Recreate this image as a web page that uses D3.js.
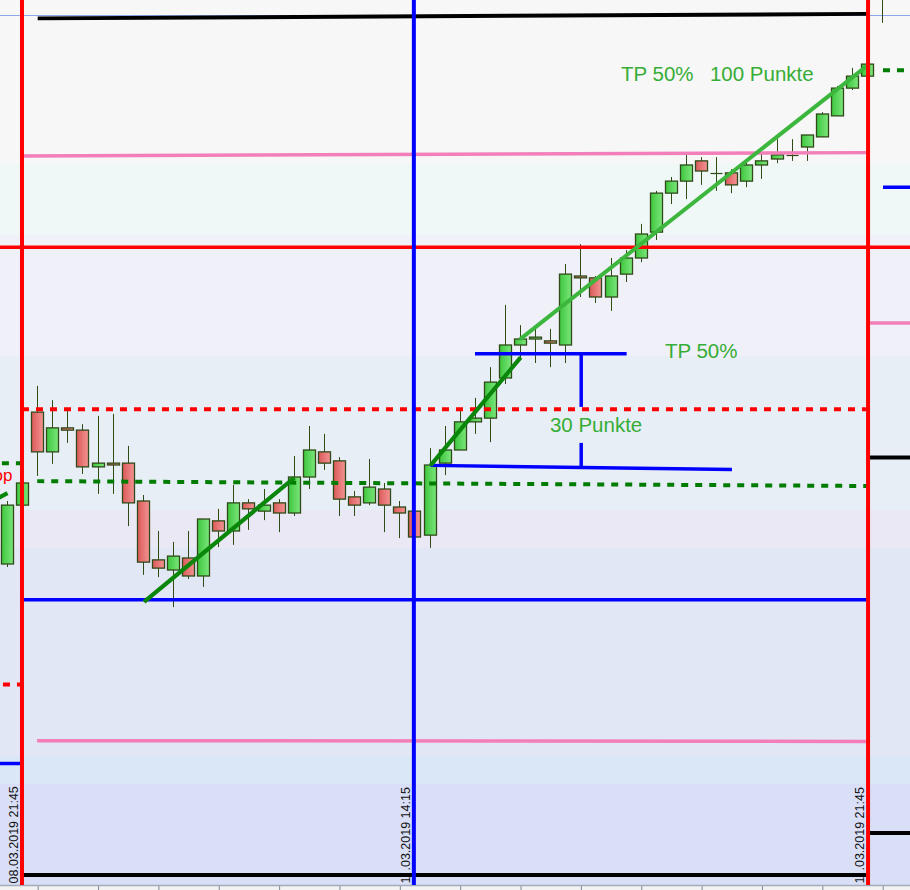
<!DOCTYPE html>
<html>
<head>
<meta charset="utf-8">
<script src="https://cdn.jsdelivr.net/npm/d3@7/dist/d3.min.js"></script>
<style>
  html, body { margin: 0; padding: 0; background: #f7f7f7; }
  svg { display: block; }
</style>
</head>
<body>
<svg id="chart" width="910" height="890"></svg>
<script>
// 15 minute candles, 08.03.2019 21:30 -> 11.03.2019 22:00
const opens = [11473.6, 11489.3, 11514.1, 11503.5, 11509.9, 11509.3, 11499.5, 11500.5, 11500.5, 11490.4,
    11474.7, 11472.0, 11475.2, 11470.4, 11485.1, 11482.4, 11489.9, 11487.7, 11489.9, 11487.2,
    11496.8, 11503.5, 11501.1, 11491.5, 11489.9, 11493.6, 11488.8, 11487.7, 11481.3, 11500.5,
    11504.0, 11511.5, 11512.5, 11523.2, 11532.0, 11533.6, 11533.1, 11532.0, 11550.4, 11549.9,
    11544.8, 11550.9, 11555.2, 11562.1, 11572.5, 11575.7, 11581.1, 11577.9, 11577.9, 11575.7,
    11580.0, 11581.6, 11582.7, 11584.8, 11587.5, 11593.1, 11600.5, 11603.7, 11632.0];
const highs = [11490.4, 11495.2, 11521.1, 11517.3, 11515.2, 11510.9, 11513.1, 11513.6, 11505.1, 11492.0,
    11482.4, 11479.5, 11482.4, 11485.6, 11488.3, 11494.7, 11490.9, 11493.6, 11490.9, 11502.4,
    11510.4, 11508.3, 11502.1, 11493.1, 11501.6, 11495.2, 11490.4, 11489.3, 11504.5, 11510.4,
    11514.4, 11517.9, 11526.1, 11542.7, 11537.3, 11536.3, 11536.3, 11553.6, 11558.9, 11550.4,
    11555.2, 11557.3, 11564.3, 11573.1, 11576.8, 11582.7, 11582.1, 11582.1, 11578.9, 11581.1,
    11583.2, 11586.9, 11586.9, 11588.0, 11594.1, 11601.1, 11605.9, 11606.9, 11636.0];
const lows = [11472.8, 11489.1, 11497.1, 11500.3, 11505.9, 11497.6, 11492.3, 11492.3, 11483.7, 11470.7,
    11470.1, 11462.1, 11469.6, 11467.5, 11478.1, 11478.7, 11482.7, 11485.3, 11482.1, 11486.4,
    11493.6, 11498.7, 11486.4, 11486.4, 11489.3, 11482.1, 11480.5, 11480.0, 11477.9, 11497.3,
    11504.0, 11508.3, 11506.1, 11521.6, 11528.3, 11527.2, 11526.1, 11527.2, 11544.8, 11543.2,
    11541.1, 11548.8, 11554.1, 11560.0, 11569.6, 11570.9, 11574.7, 11573.1, 11572.5, 11574.1,
    11576.3, 11580.5, 11581.1, 11581.1, 11587.5, 11593.1, 11600.0, 11603.7, 11617.9];
const closes = [11489.3, 11495.2, 11503.5, 11509.9, 11509.3, 11499.5, 11500.5, 11500.0, 11489.9, 11474.1,
    11472.5, 11475.7, 11470.4, 11485.6, 11482.4, 11489.9, 11488.3, 11489.3, 11487.2, 11496.8,
    11504.0, 11500.5, 11490.9, 11489.3, 11494.1, 11489.3, 11487.2, 11480.8, 11500.0, 11504.0,
    11511.5, 11512.5, 11522.1, 11532.0, 11533.6, 11534.1, 11532.5, 11550.9, 11549.9, 11544.8,
    11550.4, 11555.2, 11561.6, 11572.5, 11575.7, 11580.0, 11578.4, 11577.9, 11574.7, 11580.0,
    11581.1, 11582.7, 11582.7, 11588.0, 11593.6, 11600.5, 11603.7, 11606.9, 11634.0];

// drawings: [barFrom, priceFrom, barTo, priceTo]
const redSolid = [[-1, 11558.1, 61, 11558.1]];
const redDashed = [[0.96, 11514.9, 57, 11514.9], [-0.3, 11441.5, 0.9, 11441.5]];
const greenDashed = [[1.97, 11495.7, 57, 11494.4], [-0.37, 11500.5, 0.9, 11500.5], [58.02, 11605.3, 61, 11605.3]];
const blueSolid = [[0.96, 11464.1, 57, 11464.1], [-1, 11420.4, 0.96, 11420.4], [58.02, 11574.1, 61, 11574.1],
    [30.98, 11529.7, 41.03, 11529.7], [28.04, 11499.9, 48.01, 11498.8],
    [38.02, 11529.7, 38.02, 11515.5], [38.02, 11505.9, 38.02, 11499.7]];
const pinkSolid = [[0.96, 11582.4, 57, 11583.3], [1.96, 11426.5, 57, 11426.3], [57.1, 11537.9, 61, 11537.9]];
const blackSolid = [[2, 11619.1, 57, 11620.3], [0.96, 11390.7, 57, 11390.7],
    [57.1, 11502.0, 61, 11502.0], [57.1, 11401.9, 61, 11401.9]];
const trendDark = [[9.05, 11463.5, 19.01, 11496.6], [28.04, 11499.9, 34.01, 11528.7], [-1, 11490.4, 0, 11492.5]];
const trendLight = [[33.96, 11533.5, 57.04, 11606.7]];
const cursorPrice = 11619.9;

const markerBars = [0.96, 26.93, 57.03];
const markerLabels = ['08.03.2019 21:45', '11.03.2019 14:15', '11.03.2019 21:45'];
const markerColors = ['#ff0000', '#0000ff', '#ff0000'];

const greenNotes = [
    {text: 'TP 50%', bar: 40.66, price: 11602.4},
    {text: '100 Punkte', bar: 46.55, price: 11602.4},
    {text: 'TP 50%', bar: 43.57, price: 11528.5},
    {text: '30 Punkte', bar: 35.95, price: 11508.8}
];
const stopNote = {text: 'Stop', bar: 0.33, price: 11495.7};

const W = 910, H = 890, AXIS_Y = 885;
const FONT = '"Liberation Sans", Arial, sans-serif';

// background bands (pixel rows of the chart window)
const bands = [[0, 163, '#f7f7f7'], [163, 235, '#eff7f7'], [235, 356, '#f0f0f8'], [356, 510, '#e8eef6'],
    [510, 548, '#ebe8f6'], [548, 756, '#e2e7f6'], [756, 784, '#d9e7f7'], [784, AXIS_Y, '#d8dff7']];

const svg = d3.select('#chart');

const x = d3.scaleLinear().domain([0, 57]).range([7.5, 867.6]);
const y = d3.scaleLinear().domain([11624, 11384]).range([0, 900]);

const defs = svg.append('defs');

function gradient (id, c0, c1) {
    const g = defs.append('linearGradient').attr('id', id)
        .attr('x1', 0).attr('x2', 1).attr('y1', 0).attr('y2', 0);
    g.append('stop').attr('offset', 0).attr('stop-color', c0);
    g.append('stop').attr('offset', 1).attr('stop-color', c1);
}
gradient('up', '#3ec73e', '#7ce67c');
gradient('down', '#db5959', '#f49494');

svg.append('g')
    .selectAll('rect')
    .data(bands)
    .join('rect')
    .attr('x', 0)
    .attr('y', d => d[0])
    .attr('width', W)
    .attr('height', d => d[1] - d[0])
    .attr('fill', d => d[2]);

// bottom time axis
svg.append('rect')
    .attr('x', 0).attr('y', AXIS_Y)
    .attr('width', W).attr('height', H - AXIS_Y)
    .attr('fill', '#f3f3f3');

svg.append('g')
    .attr('transform', `translate(0,${AXIS_Y})`)
    .call(d3.axisBottom(x).tickValues(d3.range(2, 59, 4)).tickFormat('').tickSizeInner(5).tickSizeOuter(0))
    .call(g => g.select('.domain').remove())
    .call(g => g.selectAll('line').attr('stroke', '#7d8796'));

svg.append('line')
    .attr('x1', 0).attr('x2', W)
    .attr('y1', AXIS_Y + 0.5).attr('y2', AXIS_Y + 0.5)
    .attr('stroke', '#a3acba').attr('stroke-width', 1.5);

// cursor line
svg.append('line')
    .attr('x1', 0).attr('x2', W)
    .attr('y1', Math.round(y(cursorPrice)) + 0.5).attr('y2', Math.round(y(cursorPrice)) + 0.5)
    .attr('stroke', '#8ea6ee').attr('stroke-width', 1);

// date labels at the vertical markers
svg.append('g')
    .selectAll('text')
    .data(markerBars)
    .join('text')
    .attr('transform', d => `translate(${x(d) - 3.8},883.5) rotate(-90)`)
    .attr('font-family', FONT)
    .attr('font-size', '12.5px')
    .attr('fill', '#111')
    .text((d, i) => markerLabels[i]);

// candles
const candles = opens.map((o, i) => ({i, o, h: highs[i], l: lows[i], c: closes[i]}));

const candle = svg.append('g')
    .selectAll('g')
    .data(candles)
    .join('g');

candle.append('line')
    .attr('x1', d => Math.floor(x(d.i)) + 0.5)
    .attr('x2', d => Math.floor(x(d.i)) + 0.5)
    .attr('y1', d => y(d.h))
    .attr('y2', d => y(d.l))
    .attr('stroke', '#2e4c14')
    .attr('stroke-width', 1);

candle.filter(d => Math.abs(y(d.o) - y(d.c)) >= 0.8)
    .append('rect')
    .attr('x', d => Math.floor(x(d.i)) - 5.5)
    .attr('width', 12)
    .attr('y', d => y(Math.max(d.o, d.c)))
    .attr('height', d => Math.abs(y(d.o) - y(d.c)))
    .attr('fill', d => d.c >= d.o ? 'url(#up)' : 'url(#down)')
    .attr('stroke', '#2f4a18')
    .attr('stroke-width', 1.3);

candle.filter(d => Math.abs(y(d.o) - y(d.c)) < 0.8)
    .append('line')
    .attr('x1', d => Math.floor(x(d.i)) - 5.5)
    .attr('x2', d => Math.floor(x(d.i)) + 6.5)
    .attr('y1', d => Math.round(y(d.c)) + 0.5)
    .attr('y2', d => Math.round(y(d.c)) + 0.5)
    .attr('stroke', '#2e4c14')
    .attr('stroke-width', 1.2);

function segments (data, color, width, dash) {
    svg.append('g')
        .selectAll('line')
        .data(data)
        .join('line')
        .attr('x1', d => x(d[0]))
        .attr('y1', d => y(d[1]))
        .attr('x2', d => x(d[2]))
        .attr('y2', d => y(d[3]))
        .attr('stroke', color)
        .attr('stroke-width', width)
        .attr('stroke-dasharray', dash || null);
}

// mask behind the bottom black line (hides a digit of the labels, as on screen)
segments([blackSolid[1]].map(d => [d[0], d[1] + 0.45, d[2], d[3] + 0.45]), '#d8dff7', 6.5);

segments(pinkSolid, '#f27fba', 3.5);
segments(blackSolid, '#000000', 4);
segments(redSolid, '#ff0000', 3.5);
segments(blueSolid, '#0000ff', 3.5);
segments(redDashed, '#ff0000', 4, '7,7');
segments(greenDashed, '#007d00', 4, '7,7');
segments(trendDark, '#0a860a', 4.2);
segments(trendLight, '#3cb63c', 4);

svg.append('g')
    .selectAll('text')
    .data(greenNotes)
    .join('text')
    .attr('x', d => x(d.bar))
    .attr('y', d => y(d.price))
    .attr('font-family', FONT)
    .attr('font-size', '20.5px')
    .attr('fill', '#36ad36')
    .text(d => d.text);

// label of a stop line further left, only its tail is on screen
svg.append('text')
    .attr('x', x(stopNote.bar))
    .attr('y', y(stopNote.price))
    .attr('text-anchor', 'end')
    .attr('font-family', FONT)
    .attr('font-size', '17px')
    .attr('fill', '#ff0000')
    .text(stopNote.text);

// vertical markers
svg.append('g')
    .selectAll('line')
    .data(markerBars)
    .join('line')
    .attr('x1', d => x(d))
    .attr('x2', d => x(d))
    .attr('y1', 0)
    .attr('y2', AXIS_Y)
    .attr('stroke', (d, i) => markerColors[i])
    .attr('stroke-width', 4);
</script>
</body>
</html>
